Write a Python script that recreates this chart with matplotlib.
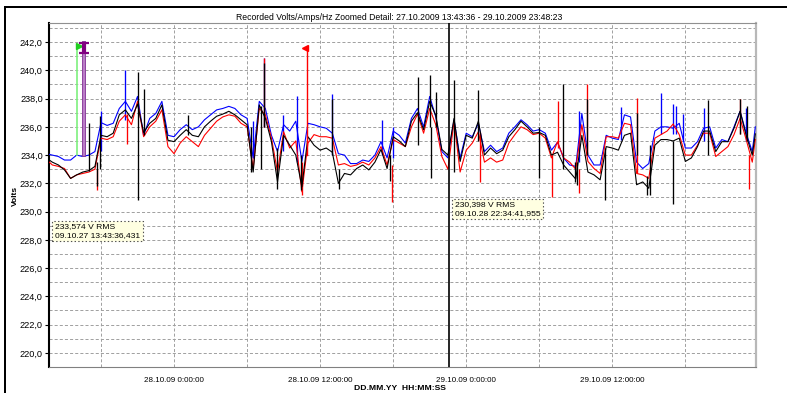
import numpy as np
import pandas as pd
import matplotlib
matplotlib.use('Agg')
import matplotlib.pyplot as plt
import matplotlib.dates as mdates
from matplotlib.ticker import MultipleLocator, FuncFormatter
from matplotlib.lines import Line2D

plt.rcParams['font.family'] = ['Liberation Sans', 'DejaVu Sans']
plt.rcParams['lines.scale_dashes'] = False

# time base: hours relative to 28.10.2009 00:00
t_ref = pd.Timestamp('2009-10-28 00:00:00')
t_start = pd.Timestamp('2009-10-27 13:43:36')
t_end = pd.Timestamp('2009-10-29 23:48:23')

hours = np.concatenate(([-10.25], np.arange(-10.0, 47.6, 0.5), [47.75]))

# RMS volts per phase (sampled every 30 min)
volts_blue = [
    234.05, 234.0, 233.9, 233.65, 233.65, 234.0, 233.9, 234.0, 234.25,
    236.3, 236.1, 236.25, 237.3, 237.8, 237.1, 238.15, 235.4, 236.6, 236.95, 237.8, 235.4,
    235.3, 235.8, 236.15, 235.8, 236.0, 236.5, 236.85, 237.2, 237.3, 237.45, 237.3, 236.85,
    236.6, 233.8, 237.8, 237.3, 235.4, 234.25, 236.15, 235.7, 236.4, 233.55, 236.25, 236.15,
    236.0, 235.9, 235.55, 234.1, 234.0, 233.4, 233.4, 233.65, 233.55, 234.0, 234.95, 233.8,
    235.7, 235.4, 234.85, 236.6, 237.3, 236.0, 238.15, 236.7, 234.25, 233.8, 236.5, 233.8,
    235.55, 235.3, 236.25, 234.25, 234.7, 234.25, 234.5, 235.55, 236.0, 236.5, 236.15, 235.7,
    235.8, 235.55, 234.35, 234.9, 233.8, 233.3, 233.2, 236.95, 234.0, 233.3, 233.3, 235.4,
    235.2, 235.1, 236.85, 236.7, 233.5, 233.05, 233.4, 235.7, 236.0, 236.0, 235.9, 236.25,
    234.5, 234.5, 234.95, 235.9, 236.0, 234.5, 235.1, 234.95, 236.0, 237.1, 235.55, 234.25,
    236.0,
]
volts_red = [
    233.5, 233.3, 233.2, 233.05, 232.35, 232.6, 232.7, 232.8, 233.0,
    235.2, 235.1, 235.3, 236.4, 236.85, 236.15, 237.8, 235.3, 236.0, 236.4, 237.2, 234.6,
    234.1, 234.85, 235.3, 234.95, 234.6, 235.4, 235.9, 236.4, 236.7, 236.85, 236.75, 236.25,
    236.0, 233.05, 237.3, 236.85, 235.2, 232.8, 235.65, 234.5, 235.0, 231.4, 234.85, 235.45,
    235.3, 235.3, 235.2, 233.3, 233.4, 233.2, 233.3, 233.5, 233.3, 233.8, 234.6, 233.3,
    235.1, 234.85, 234.6, 236.0, 236.9, 235.55, 237.3, 236.15, 233.9, 233.0, 236.4, 232.8,
    234.35, 234.85, 235.65, 233.5, 233.8, 233.5, 233.65, 234.85, 235.45, 236.0, 235.8, 235.45,
    235.55, 235.2, 233.8, 234.95, 233.8, 233.5, 233.0, 236.15, 233.55, 233.05, 232.7, 235.3,
    235.3, 235.2, 236.25, 236.15, 232.7, 232.6, 232.35, 235.2, 235.45, 235.7, 236.2, 235.45,
    234.0, 234.0, 234.7, 235.55, 235.55, 233.9, 234.25, 234.6, 235.45, 236.6, 235.1, 233.5,
    235.1,
]
volts_black = [
    233.65, 233.5, 233.3, 232.95, 232.35, 232.6, 232.8, 232.9, 233.2,
    235.4, 235.3, 235.55, 236.85, 237.2, 236.6, 237.6, 235.6, 236.25, 236.6, 237.55, 235.05,
    234.95, 235.4, 235.8, 235.4, 235.3, 236.0, 236.4, 236.75, 236.9, 237.1, 236.85, 236.5,
    236.15, 232.8, 237.55, 236.6, 234.95, 232.1, 235.4, 234.7, 234.0, 231.75, 235.3, 234.7,
    234.35, 234.5, 234.2, 232.0, 232.7, 232.6, 233.05, 233.3, 232.95, 233.5, 234.4, 233.05,
    235.3, 235.0, 234.6, 236.4, 237.0, 235.8, 237.8, 236.8, 234.4, 234.0, 236.6, 233.55,
    235.4, 235.2, 236.4, 234.0, 234.5, 234.1, 234.35, 235.3, 235.8, 236.4, 236.0, 235.55,
    235.6, 235.4, 234.0, 234.2, 233.3, 232.8, 232.3, 235.4, 232.8, 232.6, 232.25, 234.6,
    234.5, 234.35, 235.4, 235.55, 231.9, 232.1, 231.65, 234.7, 235.1, 235.1, 235.0, 235.2,
    233.55, 233.8, 234.6, 235.7, 235.7, 234.25, 234.95, 234.95, 235.9, 237.1, 235.4, 234.0,
    235.5,
]

# short min/max excursions: hour, min, max
blue_peak_h = [-6.0, -4.03, 6.52, 7.42, 8.99, 10.08, 12.99, 17.07, 18.0, 33.3, 36.71, 40.0, 41.0, 41.2, 41.8, 43.5, 47.0]
blue_peak_lo = [234.3, 236.5, 233.8, 236.0, 234.3, 233.5, 234.0, 234.0, 233.8, 233.5, 235.1, 235.5, 235.5, 235.5, 235.0, 235.0, 235.0]
blue_peak_hi = [237.1, 240.05, 236.4, 240.9, 236.85, 238.15, 238.3, 236.5, 236.0, 237.1, 237.4, 238.4, 237.6, 237.5, 236.9, 237.3, 237.3]

red_peak_h = [-6.3, -3.9, 7.42, 10.5, 17.9, 25.15, 31.04, 31.5, 33.23, 33.92, 38.03, 46.52, 47.26]
red_peak_lo = [231.5, 234.8, 236.0, 231.2, 230.7, 232.1, 231.05, 234.5, 231.3, 234.0, 232.7, 235.5, 231.6]
red_peak_hi = [233.0, 236.9, 240.9, 233.5, 233.3, 235.6, 234.0, 237.8, 233.0, 239.0, 238.05, 238.0, 234.0]

black_peak_h = [-6.96, -6.3, -6.08, -3.0, -2.47, 1.18, 6.3, 7.12, 7.42, 8.49, 10.4, 12.99, 13.51,
                17.75, 20.0, 21.04, 21.1, 21.5, 23.02, 25.0, 30.0, 31.92, 32.9, 33.1, 33.92,
                35.37, 38.03, 38.85, 39.12, 41.0, 43.9, 46.52, 47.07]
black_peak_lo = [232.9, 231.8, 233.0, 230.8, 235.4, 235.4, 232.8, 233.05, 236.0, 231.6, 231.5, 234.0, 231.6,
                 232.2, 234.7, 236.0, 232.35, 236.0, 232.8, 235.0, 232.35, 233.0, 232.1, 231.9, 234.0,
                 230.8, 234.0, 231.2, 231.2, 230.55, 234.0, 235.5, 235.0]
black_peak_hi = [236.3, 233.5, 236.8, 239.9, 238.7, 236.85, 236.0, 237.5, 240.5, 234.5, 234.0, 238.0, 233.0,
                 234.0, 239.5, 239.7, 236.0, 238.5, 239.35, 238.6, 236.0, 239.0, 233.5, 233.5, 238.0,
                 234.5, 237.0, 232.5, 234.7, 235.0, 237.9, 238.0, 237.5]

# event markers (hour, lowest, highest)
green_mark = (-7.95, 234.0, 241.7)
purple_mark = (-7.4, 234.0, 241.9)
red_mark = (10.96, 234.0, 241.6)
cursor_h = 22.578


def th(h):
    return (t_ref + pd.to_timedelta(np.asarray(h, dtype=float), unit='h')).to_numpy() \
        if np.ndim(h) else np.datetime64(t_ref + pd.to_timedelta(float(h), unit='h'))


fig = plt.figure(figsize=(7.87, 3.93), dpi=100)
ax = fig.add_axes([49 / 787, 1 - 367 / 393, 707 / 787, 344 / 393])

x = th(hours)
for vals, ph, plo, phi, col in [
    (volts_blue, blue_peak_h, blue_peak_lo, blue_peak_hi, '#0000ff'),
    (volts_red, red_peak_h, red_peak_lo, red_peak_hi, '#ff0000'),
    (volts_black, black_peak_h, black_peak_lo, black_peak_hi, '#000000'),
]:
    ax.plot(x, vals, color=col, lw=0.8, zorder=3)
    ax.vlines(th(ph), plo, phi, color=col, lw=0.95, zorder=3)

# markers
gx = th(green_mark[0])
ax.plot([gx, gx], green_mark[1:], color='#7ef07e', lw=1.2, zorder=4)
ax.plot(th(green_mark[0] + 0.17), green_mark[2], marker='>', color='#20d020', ms=5, mec='#20d020', zorder=5)

px_ = th(purple_mark[0])
ax.plot([px_, px_], purple_mark[1:], color='#8a3c9c', lw=2.8, zorder=4)
ax.plot([px_, px_], purple_mark[1:], color='#c48ad0', lw=1.2, zorder=4)
ax.errorbar(px_, 241.6, yerr=0.35, color='#800080', elinewidth=3, capsize=3.5, capthick=1.6, zorder=5)

rx = th(red_mark[0])
ax.plot([rx, rx], red_mark[1:], color='#ff0000', lw=1.0, zorder=4)
ax.plot(th(red_mark[0] - 0.17), red_mark[2], marker='<', color='#ff0000', ms=5, zorder=5)

ax.axvline(th(cursor_h), color='black', lw=1.2, zorder=6)

# tooltips
tip = dict(boxstyle='square,pad=0.3', fc='#ffffe1', ec='#505050', ls=':', lw=0.8)
ax.text(0.0085, 0.418, '233,574 V RMS\n09.10.27 13:43:36,431', transform=ax.transAxes,
        ha='left', va='top', fontsize=6.1, linespacing=1.35, bbox=tip, zorder=7)
ax.text(0.574, 0.482, '230,398 V RMS\n09.10.28 22:34:41,955', transform=ax.transAxes,
        ha='left', va='top', fontsize=6.1, linespacing=1.35, bbox=tip, zorder=7)

ax.set_xlim(t_start.to_datetime64(), t_end.to_datetime64())
ax.set_ylim(219.0, 243.35)

ax.xaxis.set_major_locator(mdates.HourLocator(byhour=[0, 12]))
ax.xaxis.set_minor_locator(mdates.HourLocator(byhour=[6, 18]))


def fmt_time(v, pos):
    d = mdates.num2date(v)
    return d.strftime('%d.%m.%y ') + f'{d.hour}:{d.minute:02d}:{d.second:02d}'


ax.xaxis.set_major_formatter(FuncFormatter(fmt_time))
ax.yaxis.set_major_locator(MultipleLocator(2))
ax.yaxis.set_minor_locator(MultipleLocator(1))
ax.yaxis.set_major_formatter(FuncFormatter(lambda v, pos: f'{v:.1f}'.replace('.', ',')))

ax.tick_params(axis='x', which='both', length=0, pad=7, labelsize=5.8)
ax.tick_params(axis='y', which='major', length=3, width=0.8, pad=1.5, labelsize=6.6)
ax.tick_params(axis='y', which='minor', length=0)

ax.set_axisbelow(True)
ax.grid(True, which='both', axis='both', color='#a0a0a0', lw=0.7, ls=(0, (2.2, 1.5)))

ax.spines['left'].set_color('black')
ax.spines['left'].set_linewidth(1.5)
ax.spines['top'].set_color('#909090')
ax.spines['top'].set_linewidth(0.8)
ax.spines['bottom'].set_color('#808080')
ax.spines['bottom'].set_linewidth(0.8)
ax.spines['right'].set_color('#b8b8b8')
ax.spines['right'].set_linewidth(1.6)

fig.text(399.5 / 787, 1 - 17 / 393,
         'Recorded Volts/Amps/Hz Zoomed Detail: 27.10.2009 13:43:36 - 29.10.2009 23:48:23',
         ha='center', va='center', fontsize=6.2)
fig.text(15 / 787, 1 - 196 / 393, 'Volts', rotation=90, ha='center', va='center',
         fontsize=6, fontweight='bold')
fig.text(399.5 / 787, 1 - 389 / 393, 'DD.MM.YY  HH:MM:SS', ha='center', va='center',
         fontsize=6.1, fontweight='bold')

# outer frame edges
fig.add_artist(Line2D([4.7 / 787, 1], [1 - 6.7 / 393] * 2, color='black', lw=1.44,
                      transform=fig.transFigure))
fig.add_artist(Line2D([4.7 / 787] * 2, [0, 1 - 6.7 / 393], color='black', lw=1.44,
                      transform=fig.transFigure))

fig.savefig('out.png', dpi=100)
